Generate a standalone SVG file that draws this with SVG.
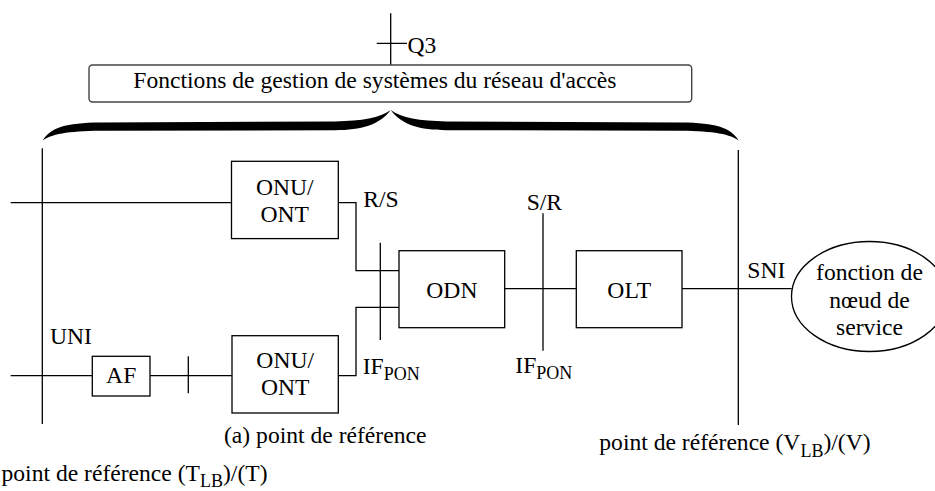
<svg xmlns="http://www.w3.org/2000/svg" width="935" height="491" viewBox="0 0 935 491">
  <style>
    text { font-family: "Liberation Serif", "Times New Roman", serif; font-size: 23.6px; fill: #000; }
    .sub { font-size: 18px; }
    .box { fill: #fff; stroke: #000; stroke-width: 1.3; }
    .ln { fill: none; stroke: #000; stroke-width: 1.3; }
    .mid { text-anchor: middle; }
  </style>
  <rect width="935" height="491" fill="#fff"/>

  <!-- management functions block with Q3 interface -->
  <g id="mgmt">
    <path class="ln" d="M390.7,13.3 V65 M376.7,43.3 H407"/>
    <text x="407.5" y="53.3">Q3</text>
    <rect x="89" y="65" width="602.7" height="37" rx="3.5" ry="3.5" fill="#fff" stroke="#444" stroke-width="1.4"/>
    <text x="133.3" y="88.3">Fonctions de gestion de systèmes du réseau d'accès</text>
  </g>

  <!-- curly brace spanning the access network -->
  <g id="brace">
    <path fill="#000" d="M42.7,140.7 C50,128 66,122.8 100,122.6 L335,121.4 C362,121 380,118 390.7,110 C401.4,118 419.4,121 446.4,121.4 L681.4,122.6 C715.4,122.8 731.4,128 738.7,140.7 C731.4,134.5 713,131 681.4,130.8 L446.4,130.2 C420,130 402,125 390.7,110 C379.4,125 361.4,130 335,130.2 L100,130.8 C68.4,131 50,134.5 42.7,140.7 Z"/>
  </g>

  <!-- connectors and reference points -->
  <g id="connectors">
    <!-- UNI reference line (T) -->
    <path class="ln" d="M42.3,148.3 V424"/>
    <!-- SNI reference line (V) -->
    <path class="ln" d="M738.3,150 V425"/>
    <!-- upper user line -->
    <path class="ln" d="M10.7,202.7 H231.5"/>
    <!-- lower user line through AF -->
    <path class="ln" d="M10.7,375.7 H92.3 M150,375.7 H232"/>
    <path class="ln" d="M188.3,356.3 V393.3"/>
    <!-- ONU/ONT to ODN -->
    <polyline class="ln" points="338.3,202.7 356,202.7 356,270.7 399,270.7"/>
    <polyline class="ln" points="338.3,375.7 356,375.7 356,307.3 399,307.3"/>
    <path class="ln" d="M380.3,242.7 V340"/>
    <!-- ODN to OLT with S/R point -->
    <path class="ln" d="M504.7,288.7 H576.3"/>
    <path class="ln" d="M543,213.3 V350.7"/>
    <!-- OLT to service node -->
    <path class="ln" d="M682,288.7 H791.7"/>
  </g>

  <g id="onu-top">
    <rect class="box" x="231.5" y="161.3" width="106.8" height="77.3"/>
    <text class="mid" x="284.8" y="194.5">ONU/</text>
    <text class="mid" x="284.8" y="221.5">ONT</text>
  </g>

  <g id="onu-bottom">
    <rect class="box" x="232" y="335.7" width="106.3" height="77.3"/>
    <text class="mid" x="285.2" y="368.3">ONU/</text>
    <text class="mid" x="285.2" y="395">ONT</text>
  </g>

  <g id="af">
    <rect class="box" x="92.3" y="356.3" width="57.7" height="39.7"/>
    <text class="mid" x="121.2" y="383.3">AF</text>
  </g>

  <g id="odn">
    <rect class="box" x="399" y="250.7" width="105.7" height="77"/>
    <text class="mid" x="451.9" y="298.3">ODN</text>
  </g>

  <g id="olt">
    <rect class="box" x="576.3" y="250.7" width="105.7" height="77"/>
    <text class="mid" x="629.2" y="298.3">OLT</text>
  </g>

  <g id="service-node">
    <ellipse class="box" cx="869.5" cy="296.5" rx="78" ry="55"/>
    <text class="mid" x="869.5" y="280">fonction de</text>
    <text class="mid" x="869.5" y="307.5">nœud de</text>
    <text class="mid" x="869.5" y="335">service</text>
  </g>

  <!-- interface labels -->
  <g id="labels">
    <text x="363.3" y="206.7">R/S</text>
    <text x="526.7" y="210">S/R</text>
    <text x="362.7" y="374">IF<tspan class="sub" dy="6.3">PON</tspan></text>
    <text x="515.3" y="373.3">IF<tspan class="sub" dy="5.7">PON</tspan></text>
    <text x="50" y="344">UNI</text>
    <text x="747.3" y="278.3">SNI</text>
    <text x="224" y="443.3">(a) point de référence</text>
    <text x="599.3" y="450">point de référence (V<tspan class="sub" dy="6.5">LB</tspan><tspan dy="-6.5">)/(V)</tspan></text>
    <text x="1.5" y="481">point de référence (T<tspan class="sub" dy="6">LB</tspan><tspan dy="-6">)/(T)</tspan></text>
  </g>
</svg>
